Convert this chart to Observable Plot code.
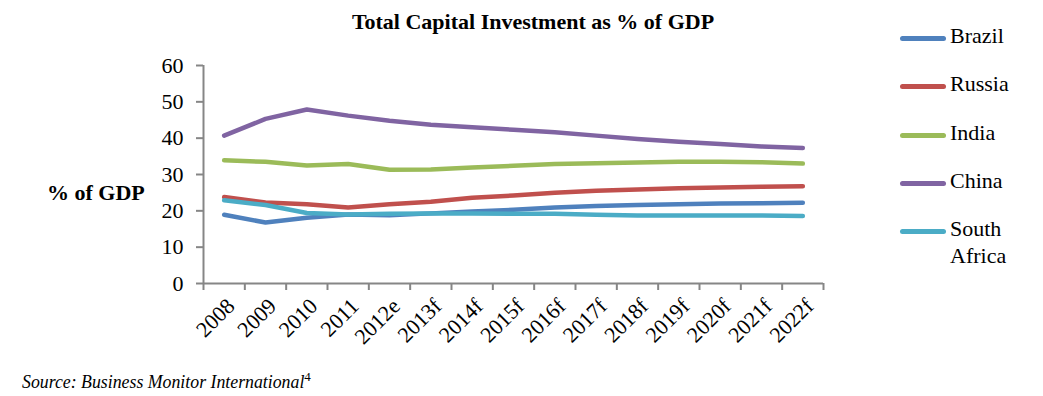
<!DOCTYPE html>
<html>
<head>
<meta charset="utf-8">
<script src="https://cdn.jsdelivr.net/npm/d3@7"></script>
<script src="https://cdn.jsdelivr.net/npm/@observablehq/plot@0.6"></script>
<style>
  html, body { margin: 0; padding: 0; background: #fff; }
  #wrap { position: relative; width: 1043px; height: 396px; font-family: "Liberation Serif", "Times New Roman", serif; color: #000; }
  #title { position: absolute; left: 0; width: 1066px; top: 9px; text-align: center; font-weight: bold; font-size: 22px; line-height: 25px; }
  #ylab { position: absolute; left: 47px; top: 180px; font-weight: bold; font-size: 22px; line-height: 25px; }
  #source { position: absolute; left: 22px; top: 372px; font-style: italic; font-size: 17.8px; line-height: 20px; }
  #source sup { font-size: 13px; font-style: normal; line-height: 0; }
  #legend { position: absolute; left: 0; top: 0; }
  .li { position: absolute; left: 900px; display: flex; align-items: flex-start; font-size: 22px; line-height: 27px; }
  .sw { width: 46px; height: 5px; border-radius: 3px; margin-top: 14px; margin-right: 4px; }
</style>
</head>
<body>
<div id="wrap">
  <div id="title">Total Capital Investment as % of GDP</div>
  <div id="ylab">% of GDP</div>
  <div id="source">Source: Business Monitor International<sup>4</sup></div>
  <div id="legend"></div>
</div>
<script>
const years = ["2008","2009","2010","2011","2012e","2013f","2014f","2015f","2016f","2017f","2018f","2019f","2020f","2021f","2022f"];
const countries = ["Brazil","Russia","India","China","South Africa"];
const colors = ["#4F81BD","#C0504D","#9BBB59","#8064A2","#4BACC6"];
const brazil = [18.9,16.8,18.1,19.0,18.8,19.3,19.8,20.3,20.9,21.3,21.6,21.8,22.0,22.1,22.2];
const russia = [23.8,22.3,21.8,20.9,21.8,22.5,23.6,24.2,25.0,25.5,25.9,26.2,26.4,26.6,26.8];
const india  = [33.9,33.5,32.5,32.9,31.3,31.4,31.9,32.4,32.9,33.1,33.3,33.5,33.5,33.4,33.0];
const china  = [40.7,45.3,47.9,46.2,44.8,43.7,43.0,42.3,41.6,40.7,39.8,39.0,38.4,37.7,37.3];
const safrica= [22.9,21.6,19.4,19.0,19.2,19.3,19.3,19.2,19.2,18.9,18.7,18.7,18.7,18.7,18.6];
const yTicks = [0,10,20,30,40,50,60];

const seriesVals = [brazil, russia, india, china, safrica];
const rows = [];
countries.forEach((c, k) => seriesVals[k].forEach((v, i) => rows.push({country: c, i, year: years[i], value: v})));
const bounds = years.map((_, i) => i - 0.5).concat([years.length - 0.5]);
const yearRows = years.map((y, i) => ({year: y, i}));
const gray = "#868686";

const chart = Plot.plot({
  width: 1043,
  height: 396,
  marginLeft: 203,
  marginRight: 220,
  marginTop: 65,
  marginBottom: 113,
  style: {fontFamily: "Liberation Serif, Times New Roman, serif", fontSize: "22px", color: "#000", background: "transparent", overflow: "visible"},
  x: {type: "linear", domain: [-0.5, years.length - 0.5], label: null},
  y: {type: "linear", domain: [0, 60], label: null},
  color: {domain: countries, range: colors},
  marks: [
    Plot.ruleY([0], {stroke: gray, strokeWidth: 2}),
    Plot.ruleX([-0.5], {y1: 0, y2: 60, stroke: gray, strokeWidth: 2}),
    Plot.axisX({ticks: bounds, tickSize: 7, tickFormat: () => "", stroke: gray, strokeWidth: 2, label: null}),
    Plot.axisY({ticks: yTicks, tickSize: 7, tickPadding: 13, stroke: gray, strokeWidth: 2, fill: "#000", fontSize: 22, label: null}),
    Plot.text(yearRows, {x: "i", y: 0, text: "year", rotate: -45, textAnchor: "end", lineAnchor: "middle", dx: 7, dy: 19, fontSize: 22, fill: "#000"}),
    Plot.line(rows, {x: "i", y: "value", z: "country", stroke: "country", strokeWidth: 4.5, strokeLinecap: "round", strokeLinejoin: "round"})
  ]
});
document.getElementById("wrap").prepend(chart);
chart.style.position = "absolute";
chart.style.left = "0";
chart.style.top = "0";

const legend = document.getElementById("legend");
const tops = [22, 70, 119, 167, 215];
countries.forEach((c, k) => {
  const d = document.createElement("div");
  d.className = "li";
  d.style.top = tops[k] + "px";
  const sw = document.createElement("div");
  sw.className = "sw";
  sw.style.background = colors[k];
  const t = document.createElement("div");
  t.innerHTML = c === "South Africa" ? "South<br>Africa" : c;
  d.appendChild(sw); d.appendChild(t);
  legend.appendChild(d);
});
</script>
</body>
</html>
